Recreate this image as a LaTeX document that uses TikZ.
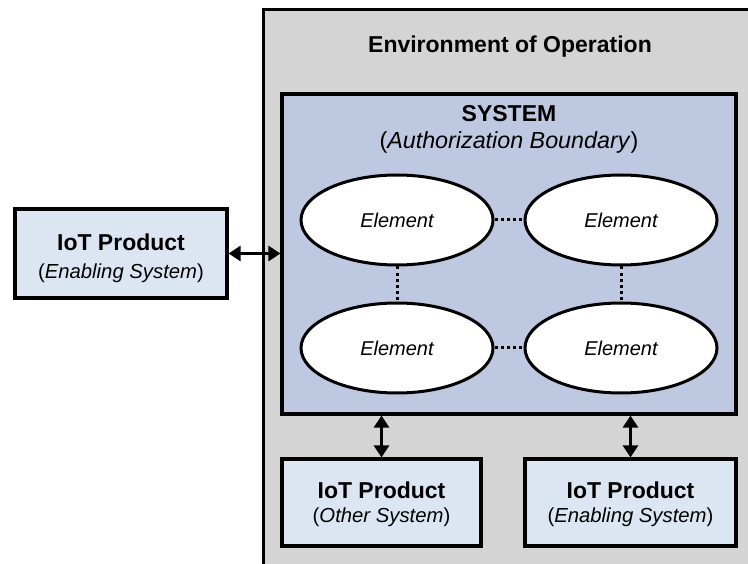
\documentclass[tikz,border=0pt]{standalone}
\usepackage{fontspec}
\setmainfont{Liberation Sans}
\usetikzlibrary{arrows.meta,shapes.geometric}

\definecolor{envfill}{HTML}{D4D4D5}
\definecolor{sysfill}{HTML}{BEC8E0}
\definecolor{prodfill}{HTML}{DCE6F3}

\begin{document}
\begin{tikzpicture}[x=1pt,y=-1pt,
  frame/.style={draw=black,line width=3.2pt,inner sep=0pt},
  product/.style={frame,fill=prodfill,minimum height=87pt},
  element/.style={ellipse,draw=black,line width=3pt,fill=white,inner sep=0pt,
    minimum width=192pt,minimum height=90pt,
    font=\fontsize{20}{24}\selectfont\itshape},
  heading/.style={anchor=base,inner sep=0pt,font=\fontsize{23}{27}\selectfont\bfseries},
  subhead/.style={anchor=base,inner sep=0pt,font=\fontsize{20.3}{24}\selectfont},
  dotlink/.style={line width=3pt,dash pattern=on 3pt off 3.2pt},
  biarrow/.style={line width=3.6pt,
    {Triangle[length=12pt,width=15pt]}-{Triangle[length=12pt,width=15pt]}}]

\useasboundingbox (0,0) rectangle (748,564);

% environment of operation (runs off the right and bottom edges)
\begin{scope}
  \clip (0,0) rectangle (748,564);
  \node[frame,fill=envfill,anchor=north west,minimum width=520pt,minimum height=600pt]
    (env) at (262,8) {};
\end{scope}
\node[heading] (envtitle) at (510,53) {Environment of Operation};

% system / authorization boundary
\node[frame,fill=sysfill,minimum width=454pt,minimum height=320pt] (sys) at (509,254) {};
\node[heading] (systitle) at (509,122) {SYSTEM};
\node[subhead,font=\fontsize{23.3}{27}\selectfont] (syssub) at (509,149)
  {(\textit{Authorization Boundary})};

% elements
\node[element] (e1) at (397,220) {Element};
\node[element] (e2) at (621,220) {Element};
\node[element] (e3) at (397,348) {Element};
\node[element] (e4) at (621,348) {Element};
\draw[dotlink] (e1) -- (e2);
\draw[dotlink] (e3) -- (e4);
\draw[dotlink] (e1) -- (e3);
\draw[dotlink] (e2) -- (e4);

% IoT products
\node[product,minimum width=212pt,minimum height=89pt] (lp) at (121,253.5) {};
\node[heading] (lpt) at (121,251) {IoT Product};
\node[subhead] (lps) at (121,278.5) {(\textit{Enabling System})};

\node[product,minimum width=199pt] (bl) at (381.5,502.5) {};
\node[heading] (blt) at (381.5,498) {IoT Product};
\node[subhead] (bls) at (381.5,522) {(\textit{Other System})};

\node[product,minimum width=211pt] (br) at (630.5,502.5) {};
\node[heading] (brt) at (630.5,498) {IoT Product};
\node[subhead] (brs) at (630.5,522) {(\textit{Enabling System})};

% interfaces
\draw[biarrow] (lp.east) -- (lp.east -| sys.west);
\draw[biarrow] (bl.north) -- (bl.north |- sys.south);
\draw[biarrow] (br.north) -- (br.north |- sys.south);
\end{tikzpicture}
\end{document}
